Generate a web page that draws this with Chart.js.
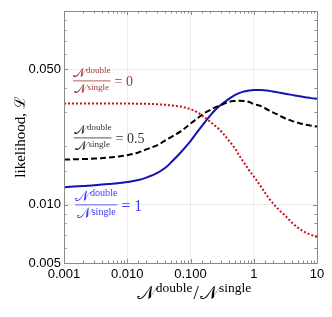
<!DOCTYPE html>
<html>
<head>
<meta charset="utf-8">
<script src="https://cdn.jsdelivr.net/npm/chart.js@4.4.0/dist/chart.umd.min.js"></script>
<style>
  html, body { margin: 0; padding: 0; background: #fff; }
  #wrap { width: 332px; height: 317px; }
</style>
</head>
<body>
<div id="wrap"><canvas id="chart" width="332" height="317"></canvas></div>
<script>
// ratio N_double / N_single on the x axis
var ratios = [0.001, 0.002, 0.003, 0.005, 0.007, 0.01, 0.015, 0.02, 0.03, 0.04, 0.05, 0.07,
  0.1, 0.13, 0.17, 0.2, 0.25, 0.3, 0.4, 0.5, 0.6, 0.7, 0.85, 1, 1.3, 1.6, 2, 2.5, 3, 4, 5, 6.5, 8, 10];

// likelihood for the three assumed true ratios
var likelihoodZero = [0.0333, 0.0333, 0.0333, 0.0333, 0.0333, 0.0333, 0.0332, 0.0332, 0.0330, 0.0328, 0.0325, 0.0321,
  0.0311, 0.0299, 0.0281, 0.0270, 0.0254, 0.0241, 0.0215, 0.0196, 0.0178, 0.0165, 0.0150, 0.0140, 0.0124, 0.0112, 0.0102, 0.0094, 0.0089, 0.0081, 0.0076, 0.0072, 0.0070, 0.0068];
var likelihoodHalf = [0.0171, 0.0172, 0.0173, 0.0175, 0.0177, 0.0180, 0.0186, 0.0193, 0.0203, 0.0215, 0.0224, 0.0239,
  0.0262, 0.0280, 0.0298, 0.0307, 0.0319, 0.0326, 0.0339, 0.0343, 0.0344, 0.0343, 0.0339, 0.0331, 0.0323, 0.0311, 0.0300, 0.0290, 0.0281, 0.0271, 0.0265, 0.0259, 0.0256, 0.0253];
var likelihoodOne = [0.0123, 0.0125, 0.0126, 0.0128, 0.0129, 0.0131, 0.0134, 0.0138, 0.0146, 0.0155, 0.0166, 0.0186,
  0.0213, 0.0239, 0.0268, 0.0286, 0.0310, 0.0327, 0.0351, 0.0368, 0.0378, 0.0384, 0.0389, 0.0391, 0.0391, 0.0389, 0.0384, 0.0379, 0.0375, 0.0369, 0.0364, 0.0359, 0.0355, 0.0352];

var trueRatios = ['0', '0.5', '1'];

var xTickValues = [0.001, 0.01, 0.1, 1, 10];
var xTickLabels = ['0.001', '0.010', '0.100', '1', '10'];
var yTickValues = [0.005, 0.01, 0.05];
var yTickLabels = ['0.005', '0.010', '0.050'];

var calN = '\u{1D4A9}';
var serif = '"Liberation Serif", "DejaVu Serif", serif';

function sameValue(a, b) {
  return Math.abs(Math.log10(a) - Math.log10(b)) < 1e-6;
}

function labelFor(values, labels, v) {
  for (var i = 0; i < values.length; i++) {
    if (sameValue(values[i], v)) return labels[i];
  }
  return '';
}

function points(ys) {
  return ratios.map(function(x, i) { return { x: x, y: ys[i] }; });
}

function drawRatio(ctx, left, barY, scale, color, rhs) {
  var big = 13 * scale, small = 9 * scale;
  ctx.save();
  ctx.fillStyle = color;
  ctx.textAlign = 'left';
  ctx.textBaseline = 'alphabetic';
  ctx.font = big + 'px ' + serif;
  var nW = ctx.measureText(calN).width;
  ctx.font = small + 'px ' + serif;
  var dW = ctx.measureText('double').width;
  var sW = ctx.measureText('single').width;
  var width = nW + dW + 1;

  ctx.font = big + 'px ' + serif;
  ctx.fillText(calN, left, barY - 4 * scale);
  ctx.font = small + 'px ' + serif;
  ctx.fillText('double', left + nW + 1, barY - 8 * scale);

  ctx.fillRect(left, barY - 0.5, width, 0.8);

  var dl = left + (width - nW - sW - 1) / 2;
  ctx.font = big + 'px ' + serif;
  ctx.fillText(calN, dl, barY + 12 * scale);
  ctx.font = small + 'px ' + serif;
  ctx.fillText('single', dl + nW + 1, barY + 9 * scale);

  ctx.font = (14 * scale) + 'px ' + serif;
  ctx.fillText('= ' + rhs, left + width + 4, barY + 5 * scale);
  ctx.restore();
}

var decorations = {
  id: 'decorations',
  afterDraw: function(chart) {
    var ctx = chart.ctx;
    var area = chart.chartArea;
    var xs = chart.scales.x, ys = chart.scales.y;

    ctx.save();
    // minor ticks pointing inwards on all four sides
    ctx.strokeStyle = '#888';
    ctx.lineWidth = 1;
    ctx.beginPath();
    xs.ticks.forEach(function(t) {
      var px = Math.round(xs.getPixelForValue(t.value)) + 0.5;
      var len = labelFor(xTickValues, xTickLabels, t.value) ? 4 : 2.5;
      ctx.moveTo(px, area.bottom); ctx.lineTo(px, area.bottom - len);
      ctx.moveTo(px, area.top); ctx.lineTo(px, area.top + len);
    });
    ys.ticks.forEach(function(t) {
      var py = Math.round(ys.getPixelForValue(t.value)) + 0.5;
      var len = labelFor(yTickValues, yTickLabels, t.value) ? 4 : 2.5;
      ctx.moveTo(area.left, py); ctx.lineTo(area.left + len, py);
      ctx.moveTo(area.right, py); ctx.lineTo(area.right - len, py);
    });
    ctx.stroke();

    // frame
    ctx.strokeStyle = '#8a8a8a';
    ctx.strokeRect(Math.round(area.left) + 0.5, Math.round(area.top) + 0.5,
      Math.round(area.right - area.left), Math.round(area.bottom - area.top));

    // y axis title
    ctx.fillStyle = '#000';
    ctx.font = '15px ' + serif;
    ctx.textAlign = 'center';
    ctx.textBaseline = 'middle';
    ctx.translate(21, (area.top + area.bottom) / 2);
    ctx.rotate(-Math.PI / 2);
    ctx.fillText('likelihood, \u2112', 0, 0);
    ctx.restore();

    // x axis title
    ctx.save();
    ctx.fillStyle = '#000';
    ctx.textAlign = 'left';
    ctx.textBaseline = 'alphabetic';
    var parts = [[calN, 19, 0], ['double', 13.5, -7], ['/', 19, 0], [calN, 19, 0], ['single', 13.5, -7]];
    var total = 0;
    parts.forEach(function(p) {
      ctx.font = p[1] + 'px ' + serif;
      total += ctx.measureText(p[0]).width + 1;
    });
    var x = (area.left + area.right) / 2 - total / 2 + 4;
    var base = 299;
    parts.forEach(function(p) {
      ctx.font = p[1] + 'px ' + serif;
      ctx.fillText(p[0], x, base + p[2]);
      x += ctx.measureText(p[0]).width + 1;
    });
    ctx.restore();

    // curve labels
    drawRatio(ctx, area.left + 9, 81, 1, '#a03a3a', trueRatios[0]);
    drawRatio(ctx, area.left + 10, 138, 1, '#333333', trueRatios[1]);
    drawRatio(ctx, area.left + 11, 205, 1.12, '#3c3cff', trueRatios[2]);
  }
};

new Chart(document.getElementById('chart'), {
  type: 'scatter',
  data: {
    datasets: [{
      label: trueRatios[0],
      data: points(likelihoodZero),
      showLine: true,
      borderColor: '#c8101a',
      borderWidth: 2,
      borderDash: [2, 2],
      pointRadius: 0,
      tension: 0.35
    }, {
      label: trueRatios[1],
      data: points(likelihoodHalf),
      showLine: true,
      borderColor: '#000000',
      borderWidth: 2,
      borderDash: [6, 3],
      pointRadius: 0,
      tension: 0.35
    }, {
      label: trueRatios[2],
      data: points(likelihoodOne),
      showLine: true,
      borderColor: '#1414b4',
      borderWidth: 2,
      pointRadius: 0,
      tension: 0.35
    }]
  },
  options: {
    responsive: false,
    animation: false,
    layout: { padding: { top: 11, right: 15, left: 0, bottom: 0 } },
    plugins: {
      legend: { display: false },
      tooltip: { enabled: false }
    },
    scales: {
      x: {
        type: 'logarithmic',
        min: 0.001,
        max: 10,
        afterFit: function(scale) { scale.height = 54; },
        border: { display: false },
        grid: {
          drawTicks: false,
          color: function(c) {
            return labelFor(xTickValues, xTickLabels, c.tick.value) ? 'rgba(0,0,0,0.07)' : 'rgba(0,0,0,0)';
          }
        },
        ticks: {
          autoSkip: false,
          maxRotation: 0,
          padding: 4,
          color: '#000',
          font: { family: '"Liberation Sans", Arial, sans-serif', size: 13 },
          callback: function(v) { return labelFor(xTickValues, xTickLabels, v); }
        }
      },
      y: {
        type: 'logarithmic',
        min: 0.005,
        max: 0.1,
        afterFit: function(scale) { scale.width = 64; },
        border: { display: false },
        grid: {
          drawTicks: false,
          color: function(c) {
            var v = c.tick.value;
            return (sameValue(v, 0.01) || sameValue(v, 0.05)) ? 'rgba(0,0,0,0.07)' : 'rgba(0,0,0,0)';
          }
        },
        ticks: {
          autoSkip: false,
          padding: 3,
          color: '#000',
          font: { family: '"Liberation Sans", Arial, sans-serif', size: 13 },
          callback: function(v) { return labelFor(yTickValues, yTickLabels, v); }
        }
      }
    }
  },
  plugins: [decorations]
});
</script>
</body>
</html>
